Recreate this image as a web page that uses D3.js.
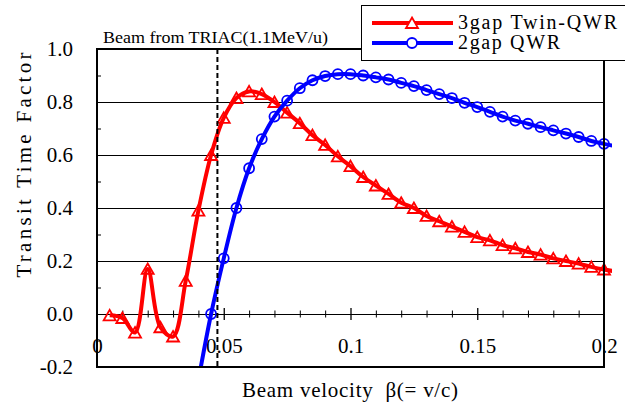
<!DOCTYPE html>
<html>
<head>
<meta charset="utf-8">
<script src="https://cdn.jsdelivr.net/npm/d3@7"></script>
<style>
body { margin: 0; background: #fff; }
text { font-family: "Liberation Serif", "Times New Roman", serif; fill: #000; }
</style>
</head>
<body>
<div id="chart"></div>
<script>
// 3gap Twin-QWR (red triangles)
var redBeta = [0.005,0.01,0.015,0.02,0.025,0.03,0.035,0.04,0.045,0.05,0.055,0.06,0.065,0.07,0.075,0.08,0.085,0.09,0.095,0.1,
               0.105,0.11,0.115,0.12,0.125,0.13,0.135,0.14,0.145,0.15,0.155,0.16,0.165,0.17,0.175,0.18,0.185,0.19,0.195,0.2,0.205];
var redTTF = [-0.005,-0.015,-0.07,0.17,-0.05,-0.085,0.125,0.39,0.60,0.74,0.815,0.84,0.83,0.80,0.76,0.72,0.675,0.638,0.595,0.558,
              0.517,0.485,0.453,0.42,0.40,0.37,0.35,0.33,0.31,0.29,0.278,0.26,0.248,0.234,0.224,0.21,0.2,0.19,0.178,0.168,0.16];

// 2gap QWR (blue circles)
var blueBeta = [0.04,0.045,0.05,0.055,0.06,0.065,0.07,0.075,0.08,0.085,0.09,0.095,0.1,0.105,0.11,0.115,0.12,0.125,0.13,0.135,
                0.14,0.145,0.15,0.155,0.16,0.165,0.17,0.175,0.18,0.185,0.19,0.195,0.2,0.205];
var blueTTF = [-0.25,0.0,0.21,0.40,0.55,0.66,0.745,0.805,0.852,0.882,0.898,0.905,0.905,0.9,0.893,0.885,0.872,0.86,0.845,0.83,
               0.815,0.797,0.781,0.763,0.745,0.73,0.718,0.705,0.693,0.681,0.668,0.653,0.642,0.632];

var seriesNames = ["3gap Twin-QWR", "2gap QWR"];
var triacBeta = [0.0475];

var xTicks = [0, 0.05, 0.1, 0.15, 0.2];
var xTickLabels = ["0", "0.05", "0.1", "0.15", "0.2"];
var xMinor = [0.01,0.02,0.03,0.04,0.06,0.07,0.08,0.09,0.11,0.12,0.13,0.14,0.16,0.17,0.18,0.19];
var yTicks = [-0.2, 0.0, 0.2, 0.4, 0.6, 0.8, 1.0];
var yTickLabels = ["-0.2", "0.0", "0.2", "0.4", "0.6", "0.8", "1.0"];
var yMinor = [-0.1, 0.1, 0.3, 0.5, 0.7, 0.9];
var gridValues = [0.2, 0.4, 0.6, 0.8];

var svg = d3.select("#chart")
  .append("svg")
    .attr("width", 625)
    .attr("height", 405);

var x = d3.scaleLinear()
  .domain([0, 0.2])
  .range([97, 604]);
var y = d3.scaleLinear()
  .domain([-0.2, 1.0])
  .range([367, 49]);

var plotW = x(0.2) - x(0);
var plotH = y(-0.2) - y(1.0);

// grid
svg.append("g")
  .attr("transform", "translate(" + x(0) + ",0)")
  .call(d3.axisLeft(y).tickValues(gridValues).tickSize(-plotW).tickFormat(""))
  .call(function(g) { g.select(".domain").remove(); })
  .selectAll("line").attr("stroke", "#000").attr("stroke-width", 1);

// y minor ticks (inside)
svg.append("g")
  .attr("transform", "translate(" + x(0) + ",0)")
  .call(d3.axisRight(y).tickValues(yMinor).tickSize(4).tickFormat(""))
  .call(function(g) { g.select(".domain").remove(); })
  .selectAll("line").attr("stroke", "#000");

// y labels
svg.append("g")
  .attr("transform", "translate(" + x(0) + ",0)")
  .call(d3.axisLeft(y).tickValues(yTicks).tickSize(0).tickPadding(24)
    .tickFormat(function(d, i) { return yTickLabels[i]; }))
  .call(function(g) { g.select(".domain").remove(); })
  .attr("font-size", 21)
  .attr("font-family", null);

// x axis along y = 0
svg.append("g")
  .attr("transform", "translate(0," + y(0) + ")")
  .call(d3.axisBottom(x).tickValues([]).tickSizeOuter(0))
  .select(".domain").attr("stroke", "#000");

svg.append("g")
  .attr("transform", "translate(0," + (y(0) - 3.5) + ")")
  .call(d3.axisBottom(x).tickValues(xMinor).tickSize(7).tickFormat(""))
  .call(function(g) { g.select(".domain").remove(); })
  .selectAll("line").attr("stroke", "#000");

svg.append("g")
  .attr("transform", "translate(0," + (y(0) - 6) + ")")
  .call(d3.axisBottom(x).tickValues(xTicks.slice(1, 4)).tickSize(12).tickFormat(""))
  .call(function(g) { g.select(".domain").remove(); })
  .selectAll("line").attr("stroke", "#000").attr("stroke-width", 1.3);

svg.append("g")
  .attr("transform", "translate(0," + y(0) + ")")
  .call(d3.axisBottom(x).tickValues(xTicks).tickSize(0).tickPadding(24)
    .tickFormat(function(d, i) { return xTickLabels[i]; }))
  .call(function(g) { g.select(".domain").remove(); })
  .attr("font-size", 21)
  .attr("font-family", null);

// series
svg.append("clipPath")
  .attr("id", "clip")
  .append("rect")
    .attr("x", x(0))
    .attr("y", y(1.0))
    .attr("width", plotW + 8)
    .attr("height", plotH);

var redData = redBeta.map(function(b, i) { return {b: b, v: redTTF[i]}; });
var blueData = blueBeta.map(function(b, i) { return {b: b, v: blueTTF[i]}; });

var line = d3.line()
  .x(function(d) { return x(d.b); })
  .y(function(d) { return y(d.v); })
  .curve(d3.curveCatmullRom);

var tri = "M0,-5.5L6,5L-6,5Z";

var plot = svg.append("g").attr("clip-path", "url(#clip)");

plot.append("path")
  .datum(redData)
  .attr("fill", "none")
  .attr("stroke", "#ff0000")
  .attr("stroke-width", 4)
  .attr("d", line);
plot.selectAll(".tri")
  .data(redData.filter(function(d) { return d.b <= 0.2; }))
  .enter().append("path")
    .attr("class", "tri")
    .attr("transform", function(d) { return "translate(" + x(d.b) + "," + y(d.v) + ")"; })
    .attr("d", tri)
    .attr("fill", "none")
    .attr("stroke", "#ff0000")
    .attr("stroke-width", 1.8);

plot.append("path")
  .datum(blueData)
  .attr("fill", "none")
  .attr("stroke", "#0000ff")
  .attr("stroke-width", 4)
  .attr("d", line);
plot.selectAll(".circ")
  .data(blueData.filter(function(d) { return d.b <= 0.2; }))
  .enter().append("circle")
    .attr("class", "circ")
    .attr("cx", function(d) { return x(d.b); })
    .attr("cy", function(d) { return y(d.v); })
    .attr("r", 5)
    .attr("fill", "none")
    .attr("stroke", "#0000ff")
    .attr("stroke-width", 1.8);

// frame
svg.append("rect")
  .attr("x", x(0))
  .attr("y", y(1.0))
  .attr("width", plotW)
  .attr("height", plotH)
  .attr("fill", "none")
  .attr("stroke", "#000")
  .attr("stroke-width", 2);

// TRIAC beam
svg.selectAll(".triac")
  .data(triacBeta)
  .enter().append("line")
    .attr("class", "triac")
    .attr("x1", function(d) { return x(d); })
    .attr("x2", function(d) { return x(d); })
    .attr("y1", y(1.0))
    .attr("y2", y(-0.2))
    .attr("stroke", "#000")
    .attr("stroke-width", 2)
    .attr("stroke-dasharray", "5,3");

svg.append("text")
  .attr("x", 103)
  .attr("y", 42.5)
  .attr("font-size", 17)
  .attr("textLength", 225)
  .attr("lengthAdjust", "spacingAndGlyphs")
  .text("Beam from TRIAC(1.1MeV/u)");

// axis titles
svg.append("text")
  .attr("transform", "translate(31,165) rotate(-90)")
  .attr("text-anchor", "middle")
  .attr("font-size", 21)
  .attr("textLength", 225)
  .text("Transit Time Factor");

svg.append("text")
  .attr("x", 242)
  .attr("y", 396.5)
  .attr("font-size", 21)
  .attr("textLength", 216)
  .style("white-space", "pre")
  .text("Beam velocity  \u03b2(= v/c)");

// legend
svg.append("rect")
  .attr("x", 361.5)
  .attr("y", 5.5)
  .attr("width", 280)
  .attr("height", 55)
  .attr("fill", "#fff")
  .attr("stroke", "#000")
  .attr("stroke-width", 1);

var legendColors = ["#ff0000", "#0000ff"];
var legend = svg.selectAll(".leg")
  .data(seriesNames)
  .enter().append("g")
    .attr("class", "leg")
    .attr("transform", function(d, i) { return "translate(0," + (23 + i * 20) + ")"; });

legend.append("line")
  .attr("x1", 372).attr("x2", 453)
  .attr("stroke", function(d, i) { return legendColors[i]; })
  .attr("stroke-width", 4);
legend.filter(function(d, i) { return i == 0; }).append("path")
  .attr("transform", "translate(412,0)")
  .attr("d", tri)
  .attr("fill", "#fff")
  .attr("stroke", "#ff0000")
  .attr("stroke-width", 1.8);
legend.filter(function(d, i) { return i == 1; }).append("circle")
  .attr("cx", 412)
  .attr("r", 5)
  .attr("fill", "#fff")
  .attr("stroke", "#0000ff")
  .attr("stroke-width", 1.8);
legend.append("text")
  .attr("x", 458)
  .attr("y", 6)
  .attr("font-size", 20)
  .attr("textLength", function(d, i) { return i == 0 ? 159 : 102; })
  .text(function(d) { return d; });
</script>
</body>
</html>
